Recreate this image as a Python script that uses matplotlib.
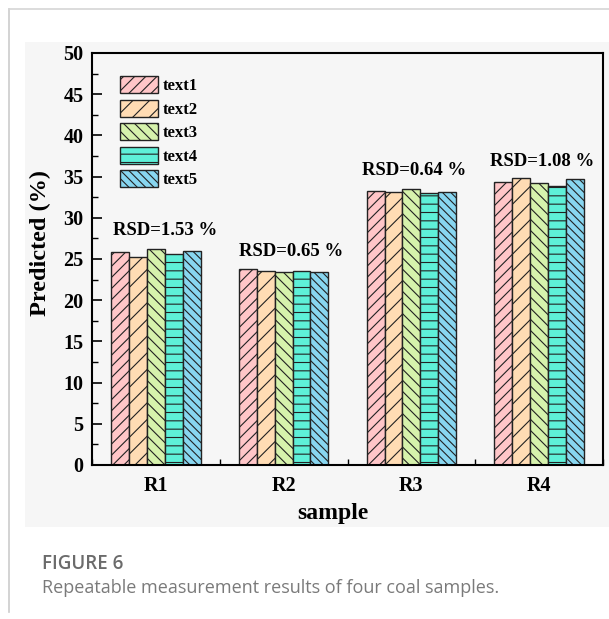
import matplotlib
matplotlib.use("Agg")
import matplotlib.pyplot as plt
import numpy as np
from matplotlib.patches import Rectangle
from matplotlib.lines import Line2D
from matplotlib.ticker import MultipleLocator

samples = ["R1", "R2", "R3", "R4"]
series_names = ["text1", "text2", "text3", "text4", "text5"]
text1 = [25.8, 23.8, 33.2, 34.3]
text2 = [25.2, 23.5, 33.1, 34.8]
text3 = [26.2, 23.4, 33.5, 34.2]
text4 = [25.6, 23.5, 33.0, 33.9]
text5 = [26.0, 23.4, 33.1, 34.7]
rsd_labels = ["RSD=1.53 %", "RSD=0.65 %", "RSD=0.64 %", "RSD=1.08 %"]
rsd_y = [28.4, 25.85, 35.8, 36.8]
rsd_dx = [0.075, 0.06, 0.02, 0.02]

colors = ["#FFC6C8", "#FFDCB4", "#D6F2AC", "#5EF0D8", "#88D6F0"]
hatches = ["///", "//", "\\\\\\", "--", "\\\\\\\\"]

plt.rcParams["hatch.linewidth"] = 0.8
plt.rcParams["hatch.color"] = "#222222"
serif = ["Liberation Serif", "DejaVu Serif"]

fig = plt.figure(figsize=(6.09, 6.19), dpi=100)
W, H = 609, 619

# page decorations
fig.add_artist(Rectangle((25 / W, 1 - 527 / H), (609 - 25) / W, (527 - 42) / H,
                         transform=fig.transFigure, facecolor="#f6f6f6",
                         edgecolor="none", zorder=0))
fig.add_artist(Line2D([9 / W, 9 / W], [1 - 9 / H, 1 - 612 / H],
                      transform=fig.transFigure, color="#cccccc", lw=1.2))
fig.add_artist(Line2D([9 / W, 1.0], [1 - 9 / H, 1 - 9 / H],
                      transform=fig.transFigure, color="#d6d6d6", lw=1.2))

ax = fig.add_axes([92 / W, 1 - 465 / H, (603 - 92) / W, (465 - 53) / H])
ax.set_facecolor("none")

x = np.arange(1, len(samples) + 1)
width = 0.14
data = [text1, text2, text3, text4, text5]
for i, (vals, name) in enumerate(zip(data, series_names)):
    ax.bar(x + (i - 2) * width, vals, width, color=colors[i], hatch=hatches[i],
           edgecolor="#222222", linewidth=1.0, label=name, zorder=2)

for xi, lab, yy, dx in zip(x, rsd_labels, rsd_y, rsd_dx):
    ax.text(xi + dx, yy, lab, ha="center", va="center", fontsize=13.5,
            fontweight="bold", family=serif)

ax.set_xlim(0.5, 4.5)
ax.set_ylim(0, 50)
ax.set_xticks(x)
ax.set_xticklabels(samples)
ax.xaxis.set_minor_locator(MultipleLocator(0.5))
ax.yaxis.set_major_locator(MultipleLocator(5))
ax.yaxis.set_minor_locator(MultipleLocator(2.5))
ax.tick_params(axis="both", which="major", direction="in", length=7, width=1.2,
               labelsize=14.5)
ax.tick_params(axis="both", which="minor", direction="in", length=4, width=1.0)
ax.tick_params(axis="x", which="major", length=0, pad=8)
ax.tick_params(axis="y", which="major", pad=6)
for lab in ax.get_xticklabels() + ax.get_yticklabels():
    lab.set_fontweight("bold")
    lab.set_family(serif)
for s in ax.spines.values():
    s.set_linewidth(1.5)

ax.set_xlabel("sample", fontsize=17, fontweight="bold", family=serif)
ax.xaxis.set_label_coords((333 - 92) / 511, -(513 - 465) / 412)
ax.xaxis.label.set_va("center")
ax.set_ylabel("Predicted (%)", fontsize=17.5, fontweight="bold", family=serif)
ax.yaxis.set_label_coords(-(92 - 40) / 511, (465 - 243) / 412)
ax.yaxis.label.set_va("center")

leg = ax.legend(loc="upper left", bbox_to_anchor=(0.035, 0.968), frameon=False,
                prop={"family": serif, "weight": "bold", "size": 12},
                handlelength=2.3, handleheight=1.2, labelspacing=0.32,
                handletextpad=0.25, borderaxespad=0.2)

fig.text(42 / W, 1 - 564 / H, "FIGURE 6", fontsize=13.5, color="#6b6b6b",
         fontweight="semibold", family=["Open Sans", "DejaVu Sans"], va="center")
fig.text(42 / W, 1 - 588 / H, "Repeatable measurement results of four coal samples.",
         fontsize=13, color="#7a7a7a", family=["Open Sans", "DejaVu Sans"], va="center")

fig.savefig("out.png", dpi=100)
